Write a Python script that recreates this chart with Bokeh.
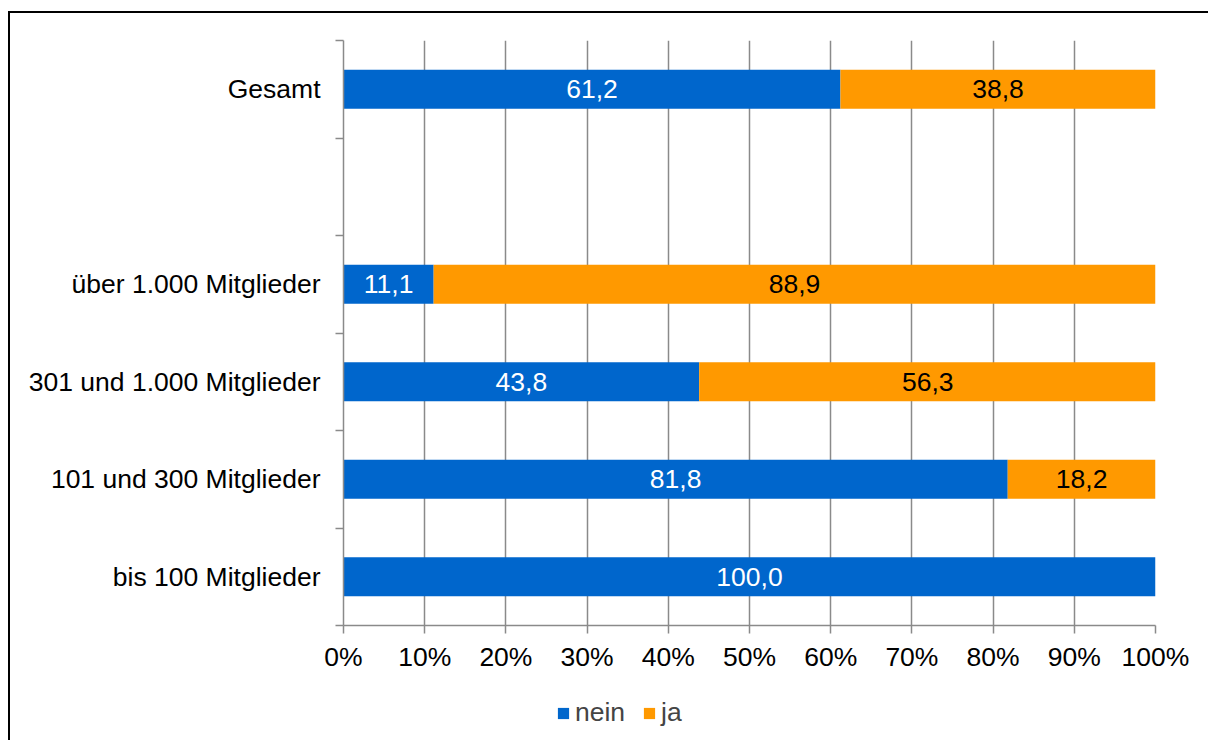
from bokeh.plotting import figure
from bokeh.layouts import column
from bokeh.models import (ColumnDataSource, Range1d, FixedTicker, PrintfTickFormatter,
                          CustomJSTickFormatter, Legend, LegendItem, InlineStyleSheet)
from bokeh.core.properties import value
from bokeh.embed import file_html
from bokeh.resources import INLINE

# ---- data ----
rows = ["bis 100 Mitglieder", "101 und 300 Mitglieder", "301 und 1.000 Mitglieder",
        "über 1.000 Mitglieder", "", "Gesamt"]          # bottom -> top, "" = gap row
categories = ["Gesamt", "über 1.000 Mitglieder", "301 und 1.000 Mitglieder",
              "101 und 300 Mitglieder", "bis 100 Mitglieder"]
nein = [61.2, 11.1, 43.8, 81.8, 100.0]
ja = [38.8, 88.9, 56.3, 18.2, 0.0]
series = ["nein", "ja"]
x_ticks = [0, 10, 20, 30, 40, 50, 60, 70, 80, 90, 100]

BLUE = "#0066CC"
ORANGE = "#FF9900"
GRID = "#8A8A8A"
FONT = "Liberation Sans"
FS = "26.5px"

def de(v):
    return f"{v:.1f}".replace(".", ",")

ys = [rows.index(c) + 0.5 for c in categories]
src = ColumnDataSource(dict(y=ys, nein=nein, ja=ja))

p = figure(width=1198, height=665, output_backend="svg", toolbar_location=None,
           x_range=Range1d(0, 100), y_range=Range1d(0, len(rows)),
           min_border_left=333, min_border_right=53, min_border_top=27,
           min_border_bottom=53, outline_line_color=None)

renderers = p.hbar_stack(series, y="y", height=0.4, source=src,
                         color=[BLUE, ORANGE], line_color=None)

# data labels
lab_nein = ColumnDataSource(dict(x=[v / 2 for v in nein], y=ys, t=[de(v) for v in nein]))
p.text(x="x", y="y", text="t", source=lab_nein, text_color="white",
       text_font=value(FONT), text_font_size=FS, text_align="center",
       text_baseline="middle")
jx, jy, jt = [], [], []
for n, j, y in zip(nein, ja, ys):
    if j > 0:
        jx.append(n + j / 2); jy.append(y); jt.append(de(j))
lab_ja = ColumnDataSource(dict(x=jx, y=jy, t=jt))
p.text(x="x", y="y", text="t", source=lab_ja, text_color="black",
       text_font=value(FONT), text_font_size=FS, text_align="center",
       text_baseline="middle")

# x axis
p.xaxis.ticker = FixedTicker(ticks=x_ticks, minor_ticks=[])
p.xaxis.formatter = PrintfTickFormatter(format="%d%%")
p.xaxis.axis_line_color = GRID
p.xaxis.axis_line_width = 1.5
p.xaxis.major_tick_line_color = GRID
p.xaxis.major_tick_line_width = 1.5
p.xaxis.major_tick_out = 8
p.xaxis.major_tick_in = 0
p.xaxis.major_label_standoff = 8
p.xaxis.major_label_text_font = FONT
p.xaxis.major_label_text_font_size = FS
p.xaxis.major_label_text_color = "black"

# y axis
p.yaxis.ticker = FixedTicker(ticks=[i + 0.5 for i in range(len(rows))],
                             minor_ticks=list(range(len(rows) + 1)))
p.yaxis.formatter = CustomJSTickFormatter(args=dict(labels=rows),
                                          code="return labels[Math.floor(tick)];")
p.yaxis.axis_line_color = GRID
p.yaxis.axis_line_width = 1.5
p.yaxis.major_tick_line_color = None
p.yaxis.major_tick_out = 0
p.yaxis.major_tick_in = 0
p.yaxis.minor_tick_line_color = GRID
p.yaxis.minor_tick_line_width = 1.5
p.yaxis.minor_tick_out = 8
p.yaxis.minor_tick_in = 0
p.yaxis.major_label_standoff = 15
p.yaxis.major_label_text_font = FONT
p.yaxis.major_label_text_font_size = FS
p.yaxis.major_label_text_color = "black"

p.xgrid.ticker = FixedTicker(ticks=x_ticks)
p.xgrid.grid_line_color = GRID
p.xgrid.grid_line_width = 1.5
p.ygrid.visible = False

# legend strip (separate figure so that the legend is not clipped)
p2 = figure(width=1198, height=62, output_backend="svg", toolbar_location=None,
            x_range=Range1d(0, 100), y_range=Range1d(-20, -10),
            min_border_left=0, min_border_right=0, min_border_top=0, min_border_bottom=0,
            x_axis_location=None, y_axis_location=None, outline_line_color=None)
p2.grid.visible = False
leg_r = p2.hbar_stack(series, y="y", height=0.4, source=src,
                      color=[BLUE, ORANGE], line_color=None)
for r in leg_r:
    r.visible = False
legend = Legend(items=[LegendItem(label=s, renderers=[r]) for s, r in zip(series, leg_r)],
                orientation="horizontal", location=(213, 12),
                label_text_font=FONT, label_text_font_size=FS,
                glyph_width=14, glyph_height=14, label_standoff=5, spacing=17,
                border_line_color=None, background_fill_alpha=0,
                inactive_fill_alpha=0, padding=0, margin=0)
p2.add_layout(legend)

layout = column(p, p2, spacing=0)
layout.stylesheets = [InlineStyleSheet(
    css=":host { border-left: 2px solid black; border-top: 2px solid black; margin-left: 8px; margin-top: 11px; }")]

open("out.html", "w").write(file_html(layout, INLINE))
